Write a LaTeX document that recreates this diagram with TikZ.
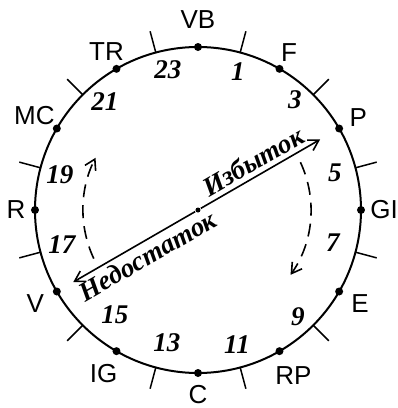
\documentclass[tikz,border=0pt]{standalone}
\usepackage{fontspec}
\setmainfont{Liberation Serif}
\setsansfont{Liberation Sans}
\usetikzlibrary{arrows.meta}

\tikzset{
  pt/.style={circle,fill,inner sep=0pt,minimum size=8pt},
  lab/.style={font=\sffamily\fontsize{26}{26}\selectfont},
  hour/.style={font=\bfseries\itshape\fontsize{27}{27}\selectfont},
  word/.style={font=\bfseries\itshape\fontsize{27}{27}\selectfont,sloped,inner sep=4pt},
}

\begin{document}
\begin{tikzpicture}[x=1pt,y=1pt,line width=1.6pt,>={Straight Barb[length=10pt,width=12pt]}]
  \useasboundingbox (-198,-198) rectangle (200,210);
  \draw[line width=2pt] (0,0) circle (163);
  % points on the ring
  \foreach \a/\r/\txt/\nm in {90/190/VB/vb,60/182/F/f,30/185/P/p,0/186/GI/gi,-30/187/E/e,-60/191/RP/rp,
                             -90/185/C/c,-120/189/IG/ig,-150/188/V/v,180/182/R/r,150/189/MC/mc,120/183/TR/tr} {
    \node[pt] (\nm) at (\a:163) {};
    \node[lab] (\nm-lab) at (\a:\r) {\txt};
  }
  % ticks between the points
  \foreach \a in {75,45,...,-255}
    \draw[line width=1.5pt] (\a:163) -- (\a:185);
  % hours
  \foreach \p/\h in {{(40,138)}/1,{(97,110)}/3,{(137,37)}/5,{(135,-33)}/7,{(100,-107)}/9,{(39,-135)}/11,
                     {(-31,-133)}/13,{(-83,-105)}/15,{(-136,-35)}/17,{(-138,35)}/19,{(-93,108)}/21,{(-30,140)}/23}
    \node[hour] (h\h) at \p {\h};
  % excess / deficit
  \node[circle,fill,inner sep=0pt,minimum size=5pt] (ctr) at (0,0) {};
  \coordinate (hi) at (30:141);
  \coordinate (lo) at (210:144);
  \draw[->] (ctr) -- (hi) node[word,midway,above] {Избыток};
  \draw[<-] (lo) -- (ctr) node[word,pos=0.55,below] {Недостаток};
  % dashed turns
  \coordinate (l0) at (205:115);
  \coordinate (r0) at (25:113);
  \draw[->,dash pattern=on 13pt off 8pt] (l0) arc[start angle=205,end angle=153,radius=115];
  \draw[->,dash pattern=on 13pt off 8pt] (r0) arc[start angle=25,end angle=-35,radius=113];
\end{tikzpicture}
\end{document}
